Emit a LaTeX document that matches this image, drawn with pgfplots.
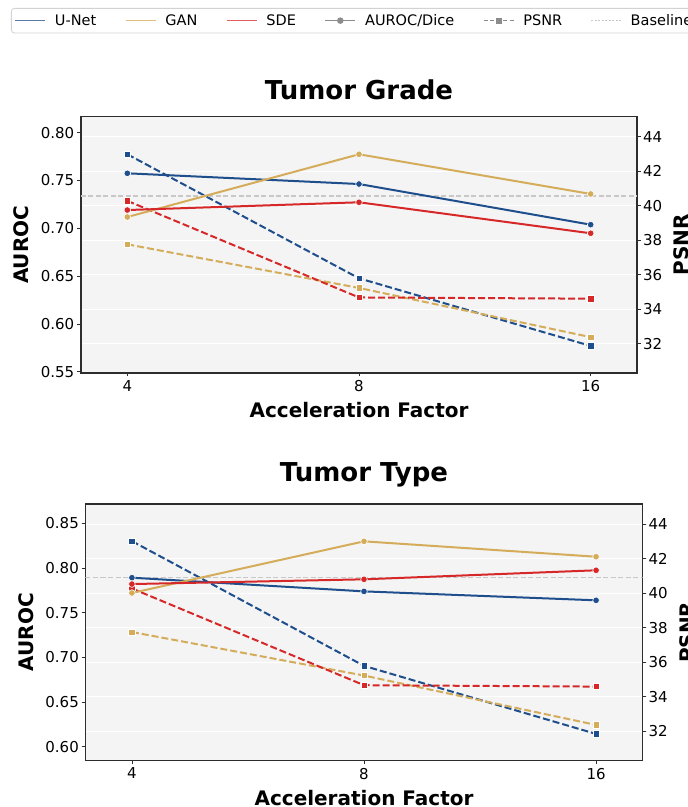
\documentclass[border=0pt]{standalone}
\usepackage{fontspec}
\setmainfont{DejaVu Sans}
\usepackage{pgfplots}
\pgfplotsset{compat=1.18}
\definecolor{cU}{RGB}{31,78,140}
\definecolor{cG}{RGB}{212,172,90}
\definecolor{cS}{RGB}{214,40,40}
\definecolor{bgc}{RGB}{244,244,244}
\definecolor{spine}{RGB}{45,45,45}
\definecolor{basecol}{RGB}{200,200,200}
\definecolor{legframe}{RGB}{210,210,210}
\definecolor{hgray}{RGB}{140,140,140}

\pgfplotsset{
  common/.style={
    scale only axis,
    xmin=-0.2, xmax=2.2,
    tick align=outside,
    major tick length=3.5pt,
    tick style={spine, line width=0.8pt},
    axis line style={spine, line width=1.2pt},
    tick label style={font=\fontsize{15}{18}\selectfont},
    /pgf/number format/assume math mode=true,
    clip=true,
  },
  aurocax/.style={
    common,
    xtick={0,1,2}, xticklabels={4,8,16},
    xtick pos=left, ytick pos=left,
    xticklabel style={anchor=north, inner sep=0pt, yshift=-3.5pt},
    yticklabel style={anchor=east, inner sep=0pt, xshift=-3pt,
      /pgf/number format/.cd, fixed, fixed zerofill, precision=2},
    every axis y label/.style={at={(axis description cs:-0.107,0.5)}, rotate=90, anchor=center,
      font=\fontsize{20}{24}\selectfont\bfseries},
    every axis x label/.style={at={(axis description cs:0.5,-0.146)}, anchor=center,
      font=\fontsize{20}{24}\selectfont\bfseries},
    every axis title/.style={at={(axis description cs:0.5,1)}, anchor=south, inner sep=0pt, yshift=17pt,
      font=\fontsize{26}{31}\selectfont\bfseries},
    xlabel={Acceleration Factor}, ylabel={AUROC},
  },
  psnrax/.style={
    common,
    xtick=\empty,
    ytick={32,34,36,38,40,42,44},
    ytick pos=right, yticklabel pos=right,
    ymin=30.3, ymax=45.16,
    ymajorgrids, major grid style={white, line width=1pt},
    axis background/.style={fill=bgc},
    yticklabel style={anchor=west, inner sep=0pt, xshift=2.5pt},
    every axis y label/.style={at={(axis description cs:1.0797,0.5)}, rotate=90, anchor=center,
      font=\fontsize{20}{24}\selectfont\bfseries},
    ylabel={PSNR},
  },
  sol/.style={#1, line width=2pt, mark=*, mark size=3.3pt,
    mark options={solid, draw=white, line width=0.6pt, fill=#1}},
  das/.style={#1, line width=2pt, dash pattern=on 7pt off 3pt, mark=square*, mark size=3.2pt,
    mark options={solid, draw=white, line width=0.6pt, fill=#1}},
  baseline/.style={basecol, line width=1.3pt, dash pattern=on 5pt off 2.5pt},
}

\begin{document}
\begin{tikzpicture}[x=1pt,y=1pt]
\useasboundingbox (0,0) rectangle (688,807);

% ===== Top: Tumor Grade =====
\begin{axis}[psnrax, at={(81pt,434pt)}, anchor=south west, width=556pt, height=256.3pt]
\addplot[das=cU] coordinates {(0,42.98) (1,35.79) (2,31.87)};
\addplot[das=cG] coordinates {(0,37.76) (1,35.23) (2,32.38)};
\addplot[das=cS] coordinates {(0,40.28) (1,34.68) (2,34.61)};
\end{axis}
\begin{axis}[aurocax, at={(81pt,434pt)}, anchor=south west, width=556pt, height=256.3pt,
  ymin=0.5487, ymax=0.8167, ytick={0.55,0.6,0.65,0.7,0.75,0.8},
  title={Tumor Grade},
  legend columns=6,
  legend image code/.code={\draw[mark repeat=2,mark phase=2,#1] plot coordinates {(0pt,0pt) (15pt,0pt) (30pt,0pt)};},
  legend style={at={(axis description cs:-0.1259,1.4241)}, anchor=north west,
    draw=legframe, fill=white, rounded corners=3pt, line width=0.8pt,
    inner xsep=3pt, inner ysep=3pt,
    font=\fontsize{14.5}{17}\selectfont,
    nodes={inner xsep=4.5pt, inner ysep=3pt},
    /tikz/every odd column/.append style={column sep=4.5pt},
    /tikz/every even column/.append style={column sep=24pt}},
  legend cell align=left]
\addlegendimage{cU!75!white, line width=1.6pt}
\addlegendentry{U-Net}
\addlegendimage{cG!80!white, line width=1.6pt}
\addlegendentry{GAN}
\addlegendimage{cS!75!white, line width=1.6pt}
\addlegendentry{SDE}
\addlegendimage{hgray, line width=1.6pt, mark=*, mark size=2.4pt}
\addlegendentry{AUROC/Dice}
\addlegendimage{hgray, line width=1.6pt, dash pattern=on 4pt off 2.5pt, mark=square*, mark size=2.2pt, mark options={solid}}
\addlegendentry{PSNR}
\addlegendimage{basecol, line width=1pt, dash pattern=on 2pt off 1.5pt}
\addlegendentry{Baseline}
\addplot[baseline, forget plot] coordinates {(-0.2,0.7338) (2.2,0.7338)};
\addplot[sol=cU, forget plot] coordinates {(0,0.7575) (1,0.7463) (2,0.7038)};
\addplot[sol=cG, forget plot] coordinates {(0,0.7118) (1,0.7774) (2,0.7359)};
\addplot[sol=cS, forget plot] coordinates {(0,0.7191) (1,0.7272) (2,0.6948)};
\end{axis}

% ===== Bottom: Tumor Type =====
\begin{axis}[psnrax, at={(85.5pt,46.3pt)}, anchor=south west, width=557pt, height=256.7pt]
\addplot[das=cU] coordinates {(0,43.01) (1,35.79) (2,31.85)};
\addplot[das=cG] coordinates {(0,37.75) (1,35.23) (2,32.37)};
\addplot[das=cS] coordinates {(0,40.27) (1,34.67) (2,34.59)};
\end{axis}
\begin{axis}[aurocax, at={(85.5pt,46.3pt)}, anchor=south west, width=557pt, height=256.7pt,
  ymin=0.5843, ymax=0.8716, ytick={0.6,0.65,0.7,0.75,0.8,0.85},
  title={Tumor Type}]
\addplot[baseline] coordinates {(-0.2,0.789) (2.2,0.789)};
\addplot[sol=cU] coordinates {(0,0.7891) (1,0.7738) (2,0.7638)};
\addplot[sol=cG] coordinates {(0,0.7720) (1,0.8298) (2,0.8126)};
\addplot[sol=cS] coordinates {(0,0.7820) (1,0.7873) (2,0.7974)};
\end{axis}
\end{tikzpicture}
\end{document}
